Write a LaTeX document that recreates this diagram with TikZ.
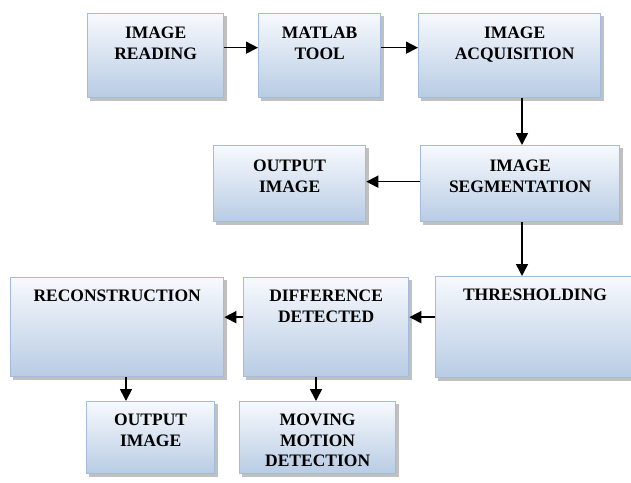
\documentclass[tikz,border=0pt]{standalone}
\usepackage{fontspec}
\setmainfont{Liberation Serif}
\usetikzlibrary{arrows.meta}
\definecolor{boxtop}{HTML}{F7F9FD}
\definecolor{boxbot}{HTML}{B8CCE4}
\definecolor{boxline}{HTML}{A3BCDC}
\definecolor{shade}{HTML}{8C8C8C}
\tikzset{
  x=1pt,y=-1pt,
  flowbox/.style={draw=boxline,line width=1.3pt,top color=boxtop,bottom color=boxbot},
  boxshadow/.style={fill=shade,opacity=0.55},
  boxtext/.style={anchor=north,align=center,inner sep=0pt,font=\fontsize{17.5}{20.5}\selectfont\bfseries},
  flow/.style={-{Triangle[length=12pt,width=12pt]},line width=1.6pt,black}
}
\newcommand{\flowbox}[5]{%
  \fill[boxshadow] (#2+3,#3+3) rectangle (#4+4,#5+4);
  \node[flowbox,minimum width=#4-#2,minimum height=#5-#3,inner sep=0pt,anchor=north west] (#1) at (#2,#3) {};
}
\begin{document}
\begin{tikzpicture}
\useasboundingbox (0,0) rectangle (631,482);
\begin{scope}
\clip (0,0) rectangle (631,482);
\flowbox{read}{87}{13}{223}{97}
\flowbox{matlab}{258}{13}{380}{97}
\flowbox{acq}{418}{13}{600}{97}
\flowbox{outa}{213}{145}{365}{221}
\flowbox{seg}{420}{145}{619}{221}
\flowbox{recon}{10}{277}{223}{376}
\flowbox{diff}{243}{277}{408}{376}
\flowbox{thresh}{435}{276}{650}{377}
\flowbox{outb}{86}{401}{214}{473}
\flowbox{moving}{239}{401}{395}{473}
\end{scope}
\node[boxtext] (treadt) at ([yshift=-14pt]read.north) {IMAGE\\READING};
\node[boxtext] (tmatlab) at ([yshift=-14pt]matlab.north) {MATLAB\\TOOL};
\node[boxtext] (tacq) at ([yshift=-14pt,xshift=5pt]acq.north) {IMAGE\\ACQUISITION};
\node[boxtext] (touta) at ([yshift=-15pt]outa.north) {OUTPUT\\IMAGE};
\node[boxtext] (tseg) at ([yshift=-15pt]seg.north) {IMAGE\\SEGMENTATION};
\node[boxtext] (trecon) at ([yshift=-13pt]recon.north) {RECONSTRUCTION};
\node[boxtext] (tdiff) at ([yshift=-13pt]diff.north) {DIFFERENCE\\DETECTED};
\node[boxtext] (tthresh) at (535,289) {THRESHOLDING};
\node[boxtext] (toutb) at ([yshift=-13pt]outb.north) {OUTPUT\\IMAGE};
\node[boxtext] (tmoving) at ([yshift=-13pt]moving.north) {MOVING\\MOTION\\DETECTION};
\draw[flow] ([yshift=8pt]read.east) -- ([yshift=8pt]read.east -| matlab.west);
\draw[flow] ([yshift=8pt]matlab.east) -- ([yshift=8pt]matlab.east -| acq.west);
\draw[flow] (acq.south -| 522,0) -- (seg.north -| 522,0);
\draw[flow] ([yshift=2pt]seg.west) -- ([yshift=2pt]seg.west -| outa.east);
\draw[flow] (seg.south -| 522,0) -- (thresh.north -| 522,0);
\draw[flow] ([yshift=10pt]diff.east -| thresh.west) -- ([yshift=10pt]diff.east);
\draw[flow] ([yshift=10pt]diff.west) -- ([yshift=10pt]diff.west -| recon.east);
\draw[flow] (recon.south -| 126,0) -- (outb.north -| 126,0);
\draw[flow] (diff.south -| 316,0) -- (moving.north -| 316,0);
\end{tikzpicture}
\end{document}
